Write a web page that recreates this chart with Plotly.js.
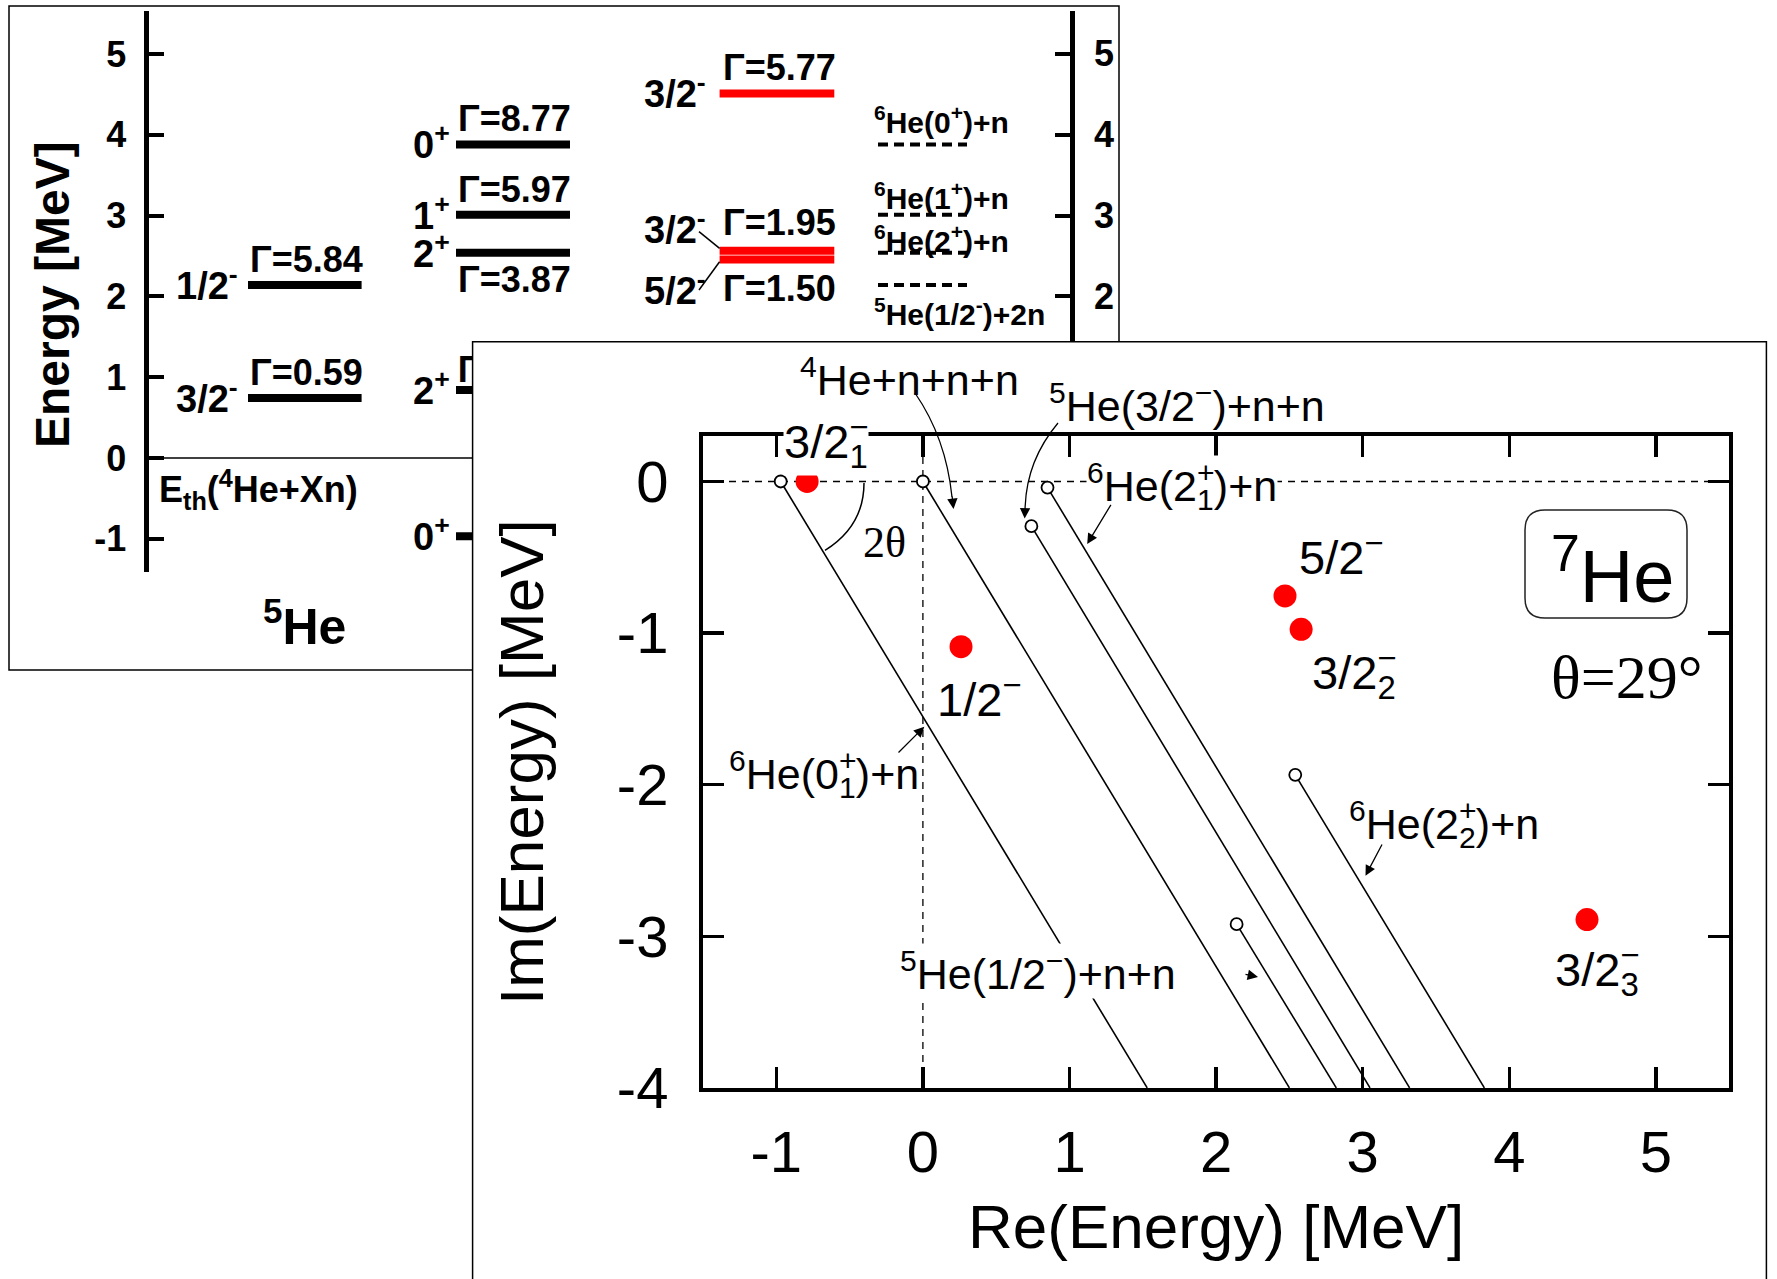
<!DOCTYPE html>
<html><head><meta charset="utf-8">
<script src="https://cdn.plot.ly/plotly-3.0.1.min.js"></script>
<style>html,body{margin:0;padding:0;background:#fff}</style>
</head><body>
<div id="chart" style="width:1777px;height:1279px"></div>
<script>
// ================= DATA =================
// Panel A: level scheme, energies (MeV) measured from the 4He+Xn threshold
const he5Energy = [2.14, 0.74];
const he5Spin   = ['1/2<sup>-</sup>', '3/2<sup>-</sup>'];
const he5Width  = ['5.84', '0.59'];

const he6Energy = [3.88, 3.01, 2.54, 0.84, -0.97];
const he6Spin   = ['0<sup>+</sup>', '1<sup>+</sup>', '2<sup>+</sup>', '2<sup>+</sup>', '0<sup>+</sup>'];
const he6Width  = ['8.77', '5.97', '3.87', '0.08', ''];

const he7Energy = [4.51, 2.565, 2.455];
const he7Spin   = ['3/2<sup>-</sup>', '3/2<sup>-</sup>', '5/2<sup>-</sup>'];
const he7Width  = ['5.77', '1.95', '1.50'];

const he7Thresholds = [3.88, 3.01, 2.54, 2.14];
const he7ThresholdLabels = ['<sup>6</sup>He(0<sup>+</sup>)+n', '<sup>6</sup>He(1<sup>+</sup>)+n',
                            '<sup>6</sup>He(2<sup>+</sup>)+n', '<sup>5</sup>He(1/2<sup>-</sup>)+2n'];

const energyTicks = [-1, 0, 1, 2, 3, 4, 5];
const energyTickText = ['-1', '0', '1', '2', '3', '4', '5'];
const rightTicks = [2, 3, 4, 5];

// Panel B: complex energy plane of 7He (theta = 29 deg)
const resRe = [-0.79, 0.26, 2.47, 2.58, 4.53];
const resIm = [0.0, -1.09, -0.755, -0.975, -2.89];

const thrRe    = [-0.97, 0.0, 0.74, 0.85, 2.14, 2.54];
const thrIm    = [0.0, 0.0, -0.295, -0.04, -2.92, -1.935];
const cutEndRe = [1.53, 2.50, 3.05, 3.32, 2.82, 3.83];
const cutEndIm = [-4, -4, -4, -4, -4, -4];

const reTicks = [-1, 0, 1, 2, 3, 4, 5];
const reTickText = ['-1', '0', '1', '2', '3', '4', '5'];
const imTicks = [0, -1, -2, -3, -4];
const imTickText = ['0', '-1', '-2', '-3', '-4'];

// ================= GEOMETRY / STYLE =================
const W = 1777, H = 1279;
const px = v => v / W, py = v => 1 - v / H;
const P = (x, y) => px(x) + ',' + py(y);

const A = {xL: 148.5, xR: 1070, yTop: 11, yBot: 572, e0: 457.9, k: 80.8};
const aRange = [(A.e0 - A.yBot) / A.k, (A.e0 - A.yTop) / A.k];
const col5 = {L: 248, R: 361.6, lab: 240, gam: 306};
const col6 = {L: 456, R: 570, lab: 452, gam: 514};
const col7 = {L: 719.6, R: 834.3, lab: 708, gam: 779};
const thrCol = {L: 878, R: 967, lab: 872};

const M = {xL: 703, kx: 146.6, yT: 436, ky: 151.6, xr: [-1.5, 5.5], yr: [-4, 0.3]};
const M_xR = M.xL + (M.xr[1] - M.xr[0]) * M.kx;
const M_yB = M.yT + (M.yr[1] - M.yr[0]) * M.ky;

const SANS = 'Liberation Sans, Arial, Helvetica, sans-serif';
const SERIF = 'Liberation Serif, Times New Roman, serif';
const fA = s => ({family: SANS, size: s, color: '#000', weight: 700});
const fM = s => ({family: SANS, size: s, color: '#000'});
const fS = s => ({family: SERIF, size: s, color: '#000'});

function levelSegs(energies, L, R) {
  const x = [], y = [];
  energies.forEach(e => { x.push(L, R, null); y.push(e, e, null); });
  return {x, y};
}

// ================= TRACES =================
const traces = [];
// --- Panel A (x, y)
traces.push({type: 'scatter', mode: 'lines', xaxis: 'x', yaxis: 'y', x: [A.xL, A.xR], y: [0, 0],
  line: {color: '#000', width: 1.5}, hoverinfo: 'skip'});
const s5 = levelSegs(he5Energy, col5.L, col5.R);
traces.push({type: 'scatter', mode: 'lines', xaxis: 'x', yaxis: 'y', x: s5.x, y: s5.y,
  line: {color: '#000', width: 8}, hoverinfo: 'skip'});
const s6 = levelSegs(he6Energy, col6.L, col6.R);
traces.push({type: 'scatter', mode: 'lines', xaxis: 'x', yaxis: 'y', x: s6.x, y: s6.y,
  line: {color: '#000', width: 8}, hoverinfo: 'skip'});
const s7 = levelSegs(he7Energy, col7.L, col7.R);
traces.push({type: 'scatter', mode: 'lines', xaxis: 'x', yaxis: 'y', x: s7.x, y: s7.y,
  line: {color: '#ff0000', width: 8}, hoverinfo: 'skip'});
const sT = levelSegs(he7Thresholds, thrCol.L, thrCol.R);
traces.push({type: 'scatter', mode: 'lines', xaxis: 'x', yaxis: 'y', x: sT.x, y: sT.y,
  line: {color: '#000', width: 4, dash: '10px,6px'}, hoverinfo: 'skip'});
// width label of the 6He 2+ level (mostly hidden behind the inset panel)
traces.push({type: 'scatter', mode: 'text', xaxis: 'x', yaxis: 'y', x: [col6.gam], y: [he6Energy[3] + 17 / A.k],
  text: ['Γ=' + he6Width[3]], textposition: 'middle center', textfont: fA(36), cliponaxis: false, hoverinfo: 'skip'});

// --- cover panel (x2, y2)
traces.push({type: 'scatter', mode: 'lines', xaxis: 'x2', yaxis: 'y2', x: [0, 1, 1, 0, 0], y: [-1, -1, 1, 1, -1],
  fill: 'toself', fillcolor: '#ffffff', line: {color: '#000', width: 1.5}, hoverinfo: 'skip'});

// --- Panel B (x3, y3)
traces.push({type: 'scatter', mode: 'lines', xaxis: 'x3', yaxis: 'y3', x: M.xr, y: [0, 0],
  line: {color: '#000', width: 1.3, dash: '7px,6px'}, hoverinfo: 'skip'});
traces.push({type: 'scatter', mode: 'lines', xaxis: 'x3', yaxis: 'y3', x: [0, 0], y: M.yr,
  line: {color: '#000', width: 1.3, dash: '7px,6px'}, hoverinfo: 'skip'});
const cx = [], cy = [];
thrRe.forEach((r, i) => { cx.push(r, cutEndRe[i], null); cy.push(thrIm[i], cutEndIm[i], null); });
traces.push({type: 'scatter', mode: 'lines', xaxis: 'x3', yaxis: 'y3', x: cx, y: cy,
  line: {color: '#000', width: 1.6}, hoverinfo: 'skip'});
traces.push({type: 'scatter', mode: 'markers', xaxis: 'x3', yaxis: 'y3', x: thrRe, y: thrIm,
  marker: {symbol: 'circle', size: 12, color: '#fff', line: {color: '#000', width: 1.8}}, hoverinfo: 'skip'});
traces.push({type: 'scatter', mode: 'markers', xaxis: 'x3', yaxis: 'y3', x: resRe, y: resIm,
  marker: {symbol: 'circle', size: 23, color: '#ff0000'}, hoverinfo: 'skip'});

// ================= ANNOTATIONS =================
const ann = [];
const add = o => ann.push(Object.assign({showarrow: false}, o));

// Panel A: 5He
he5Energy.forEach((e, i) => {
  add({xref: 'x', yref: 'y', x: col5.lab, y: e, xanchor: 'right', yanchor: 'middle', yshift: 2, text: he5Spin[i], font: fA(38)});
  add({xref: 'x', yref: 'y', x: col5.gam, y: e, xanchor: 'center', yanchor: 'bottom', yshift: 3, text: 'Γ=' + he5Width[i], font: fA(36)});
});
// Panel A: 6He
const he6GammaSide = ['above', 'above', 'below', 'hidden', 'none'];
he6Energy.forEach((e, i) => {
  add({xref: 'x', yref: 'y', x: col6.lab, y: e, xanchor: 'right', yanchor: 'middle', yshift: 2, text: he6Spin[i], font: fA(38)});
  if (he6GammaSide[i] === 'above')
    add({xref: 'x', yref: 'y', x: col6.gam, y: e, xanchor: 'center', yanchor: 'bottom', yshift: 3, text: 'Γ=' + he6Width[i], font: fA(36)});
  if (he6GammaSide[i] === 'below')
    add({xref: 'x', yref: 'y', x: col6.gam, y: e, xanchor: 'center', yanchor: 'top', yshift: -4, text: 'Γ=' + he6Width[i], font: fA(36)});
});
// Panel A: 7He
const he7SpinShift = [2, 24, -28];
const he7GammaAnchor = ['bottom', 'middle', 'middle'];
const he7GammaShift = [3, 28, -28.5];
he7Energy.forEach((e, i) => {
  add({xref: 'x', yref: 'y', x: col7.lab, y: e, xanchor: 'right', yanchor: 'middle', yshift: he7SpinShift[i], text: he7Spin[i], font: fA(38)});
  add({xref: 'x', yref: 'y', x: col7.gam, y: e, xanchor: 'center', yanchor: he7GammaAnchor[i], yshift: he7GammaShift[i], text: 'Γ=' + he7Width[i], font: fA(36)});
});
// thresholds
const thrShift = [24, 19, 14, -27];
he7Thresholds.forEach((e, i) => {
  add({xref: 'x', yref: 'y', x: thrCol.lab, y: e, xanchor: 'left', yanchor: 'middle', yshift: thrShift[i], text: he7ThresholdLabels[i], font: fA(30)});
});
// right-hand energy scale labels (outside the x range, so placed in paper units)
rightTicks.forEach(t => add({xref: 'paper', yref: 'paper', x: px(1092), y: py(A.e0 - A.k * t), xanchor: 'left', yanchor: 'middle', text: String(t), font: fA(36)}));
add({xref: 'x', yref: 'y', x: 157, y: (A.e0 - 489) / A.k, xanchor: 'left', yanchor: 'middle', text: 'E<sub>th</sub>(<sup>4</sup>He+Xn)', font: fA(36)});
add({xref: 'paper', yref: 'paper', x: px(304), y: py(623), xanchor: 'center', yanchor: 'middle', text: '<sup>5</sup>He', font: fA(50)});
add({xref: 'paper', yref: 'paper', x: px(52), y: py(295), xanchor: 'center', yanchor: 'middle', textangle: -90, text: 'Energy [MeV]', font: fA(48)});

// Panel B: axis titles
add({xref: 'paper', yref: 'paper', x: px(521), y: py(762), xanchor: 'center', yanchor: 'middle', textangle: -90, text: 'Im(Energy) [MeV]', font: fM(62)});
add({xref: 'paper', yref: 'paper', x: px(1216), y: py(1226), xanchor: 'center', yanchor: 'middle', text: 'Re(Energy) [MeV]', font: fM(62)});

// Panel B: resonance labels
const stack = (sup, sub) => '<sup><span style="letter-spacing:-0.58em">' + sup + '</span></sup><sub>' + sub + '</sub>';
const resText = ['3/2' + stack('−', '1'), '1/2<sup>−</sup>', '5/2<sup>−</sup>', '3/2' + stack('−', '2'), '3/2' + stack('−', '3')];
const resDX = [-24, -25, 13, 10, -33];
const resDY = [40, -49.5, 42, -43, -50];
const resBg = ['#ffffff', 'rgba(0,0,0,0)', 'rgba(0,0,0,0)', 'rgba(0,0,0,0)', 'rgba(0,0,0,0)'];
resRe.forEach((r, i) => add({xref: 'x3', yref: 'y3', x: r, y: resIm[i], xanchor: 'left', yanchor: 'middle',
  xshift: resDX[i], yshift: resDY[i], text: resText[i], font: fM(47), bgcolor: resBg[i], borderpad: 0}));

// Panel B: channel labels
const chan = [
  {t: '<sup>4</sup>He+n+n+n', x: 799, y: 376.5},
  {t: '<sup>5</sup>He(3/2<sup>−</sup>)+n+n', x: 1048, y: 402.5},
  {t: '<sup>6</sup>He(2' + stack('+', '1') + ')+n', x: 1086, y: 486, bg: '#ffffff'},
  {t: '<sup>6</sup>He(0' + stack('+', '1') + ')+n', x: 728, y: 774},
  {t: '<sup>5</sup>He(1/2<sup>−</sup>)+n+n', x: 899, y: 971, bg: '#ffffff'},
  {t: '<sup>6</sup>He(2' + stack('+', '2') + ')+n', x: 1348, y: 824}
];
chan.forEach(c => add({xref: 'paper', yref: 'paper', x: px(c.x), y: py(c.y), xanchor: 'left', yanchor: 'middle',
  text: c.t, font: fM(43), bgcolor: c.bg || 'rgba(0,0,0,0)', borderpad: 0}));

add({xref: 'paper', yref: 'paper', x: px(861), y: py(542), xanchor: 'left', yanchor: 'middle', text: '2θ', font: fS(44)});
add({xref: 'paper', yref: 'paper', x: px(1549), y: py(571), xanchor: 'left', yanchor: 'middle', text: '<sup>7</sup>He', font: fM(74)});
add({xref: 'paper', yref: 'paper', x: px(1549), y: py(677), xanchor: 'left', yanchor: 'middle', text: 'θ=29°', font: fS(62)});

// Panel B: arrows (tip position in px, tail offset in px)
const arrows = [
  {x: 953.5, y: 509, ax: -1.5, ay: -14},
  {x: 1024.7, y: 518.5, ax: 0.5, ay: -14},
  {x: 1087.2, y: 544, ax: 24.6, ay: -40.7},
  {x: 924.3, y: 726.7, ax: -27.3, ay: 27.3},
  {x: 1365.5, y: 875.8, ax: 17.3, ay: -32.8},
  {x: 1258, y: 977, ax: -14, ay: -3}
];
arrows.forEach(a => ann.push({xref: 'paper', yref: 'paper', x: px(a.x), y: py(a.y), ax: a.ax, ay: a.ay, text: '',
  showarrow: true, arrowhead: 2, arrowsize: 1.6, arrowwidth: 1.3, arrowcolor: '#000', standoff: 0, startstandoff: 0}));

// ================= SHAPES =================
const shapes = [
  {type: 'rect', xref: 'paper', yref: 'paper', x0: px(9), x1: px(1119), y0: py(670), y1: py(6), layer: 'below',
    line: {color: '#000', width: 1.5}, fillcolor: 'rgba(0,0,0,0)'},
  {type: 'path', xref: 'paper', yref: 'paper', path: 'M' + P(699, 231.7) + 'L' + P(719.6, 248.3), line: {color: '#000', width: 1.5}},
  {type: 'path', xref: 'paper', yref: 'paper', path: 'M' + P(699, 290) + 'L' + P(719.6, 261.7), line: {color: '#000', width: 1.5}},
  // 2theta arc
  {type: 'path', xref: 'paper', yref: 'paper', path: 'M' + P(864, 483) + 'Q' + P(864, 526) + ' ' + P(825, 550.4), line: {color: '#000', width: 1.5}},
  // curved arrow shafts
  {type: 'path', xref: 'paper', yref: 'paper', path: 'M' + P(915, 393) + 'Q' + P(946, 438) + ' ' + P(952, 497), line: {color: '#000', width: 1.3}},
  {type: 'path', xref: 'paper', yref: 'paper', path: 'M' + P(1058, 423) + 'Q' + P(1027, 460) + ' ' + P(1025.2, 506), line: {color: '#000', width: 1.3}}
];
(function () {
  const x0 = 1525, x1 = 1687, y0 = 510, y1 = 618, r = 20;
  const p = 'M' + P(x0 + r, y0) + 'L' + P(x1 - r, y0) + 'Q' + P(x1, y0) + ' ' + P(x1, y0 + r) +
    'L' + P(x1, y1 - r) + 'Q' + P(x1, y1) + ' ' + P(x1 - r, y1) + 'L' + P(x0 + r, y1) +
    'Q' + P(x0, y1) + ' ' + P(x0, y1 - r) + 'L' + P(x0, y0 + r) + 'Q' + P(x0, y0) + ' ' + P(x0 + r, y0) + 'Z';
  shapes.push({type: 'path', xref: 'paper', yref: 'paper', path: p, line: {color: '#222', width: 1.5}});
})();

// ================= LAYOUT =================
const hidden = {visible: false, showgrid: false, zeroline: false, fixedrange: true};
const layout = {
  width: W, height: H, margin: {l: 0, r: 0, t: 0, b: 0, pad: 0},
  paper_bgcolor: '#ffffff', plot_bgcolor: 'rgba(0,0,0,0)', showlegend: false, hovermode: false,
  xaxis: Object.assign({}, hidden, {domain: [px(A.xL), px(A.xR)], range: [A.xL, A.xR], anchor: 'y'}),
  yaxis: {domain: [py(A.yBot), py(A.yTop)], range: aRange, anchor: 'x', showgrid: false, zeroline: false,
    showline: true, linewidth: 5, linecolor: '#000', mirror: 'ticks', ticks: 'inside', ticklen: 15, tickwidth: 4,
    tickcolor: '#000', tickvals: energyTicks, ticktext: energyTickText, tickfont: fA(36), ticklabelstandoff: 10},
  xaxis2: Object.assign({}, hidden, {domain: [px(470), px(1769)], range: [-0.002, 1.002], anchor: 'y2'}),
  yaxis2: Object.assign({}, hidden, {domain: [0, py(340)], range: [-0.002, 1.002], anchor: 'x2'}),
  xaxis3: {domain: [px(M.xL), px(M_xR)], range: M.xr, anchor: 'y3', showgrid: false, zeroline: false,
    showline: true, linewidth: 4, linecolor: '#000', mirror: 'ticks', ticks: 'inside', ticklen: 21, tickwidth: 3.5,
    tickcolor: '#000', tickvals: reTicks, ticktext: reTickText, tickfont: fM(58), ticklabelstandoff: 11},
  yaxis3: {domain: [py(M_yB), py(M.yT)], range: M.yr, anchor: 'x3', showgrid: false, zeroline: false,
    showline: true, linewidth: 4, linecolor: '#000', mirror: 'ticks', ticks: 'inside', ticklen: 21, tickwidth: 3.5,
    tickcolor: '#000', tickvals: imTicks, ticktext: imTickText, tickfont: fM(58), ticklabelstandoff: 19},
  annotations: ann,
  shapes: shapes
};

Plotly.newPlot('chart', traces, layout, {staticPlot: true, displayModeBar: false});
</script>
</body></html>
